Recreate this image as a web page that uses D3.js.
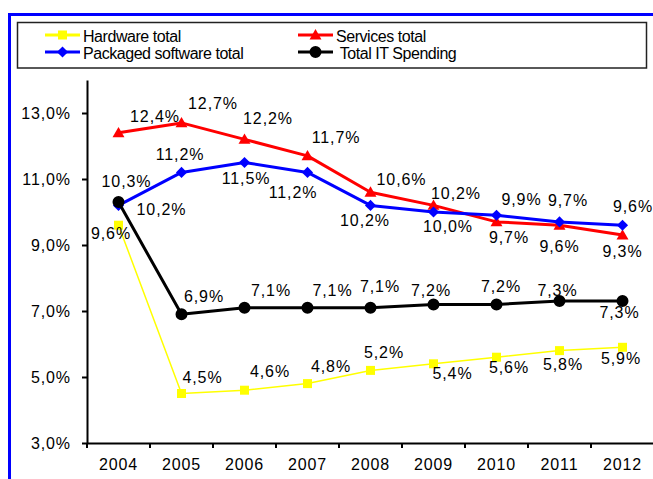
<!DOCTYPE html>
<html>
<head>
<meta charset="utf-8">
<script src="https://cdn.jsdelivr.net/npm/d3@7"></script>
<style>
  html, body { margin: 0; padding: 0; background: #fff; }
  svg { display: block; font-family: "Liberation Sans", Arial, sans-serif; }
</style>
</head>
<body>
<svg id="chart" width="653" height="479"></svg>
<script>
// IT spending growth by segment, 2004–2012
const years = ["2004", "2005", "2006", "2007", "2008", "2009", "2010", "2011", "2012"];
const hardwareTotal = [9.6, 4.5, 4.6, 4.8, 5.2, 5.4, 5.6, 5.8, 5.9];
const servicesTotal = [12.4, 12.7, 12.2, 11.7, 10.6, 10.2, 9.7, 9.6, 9.3];
const packagedSoftwareTotal = [10.2, 11.2, 11.5, 11.2, 10.2, 10.0, 9.9, 9.7, 9.6];
const totalITSpending = [10.3, 6.9, 7.1, 7.1, 7.1, 7.2, 7.2, 7.3, 7.3];
const yTickValues = [3, 5, 7, 9, 11, 13];
const yDomain = [3, 14];

// Hand-placed data-label offsets [dx, dy] from each point (layout only)
const hardwareLabelOffsets = [[-7.5, 14], [21, -11], [25.5, -13.5], [23.5, -11.3], [13.5, -12.7], [19, 15.5], [12.5, 16], [3.5, 19.4], [-1.5, 16.7]];
const servicesLabelOffsets = [[36.5, -11], [31.5, -14], [23.5, -15.4], [28.5, -13], [31, -7], [22.5, -6.5], [12.5, 21], [0, 26.5], [0, 22]];
const packagedLabelOffsets = [[43, 9.6], [-1.5, -12.4], [1.5, 21.5], [-14.5, 26], [-5.5, 21], [14.5, 20], [25, -10], [8.5, -16], [10.5, -13.5]];
const totalLabelOffsets = [[8, -15.4], [22.5, -12], [26.5, -12], [25, -12], [9.5, -15.5], [-2.5, -8.4], [4.5, -12], [-2, -5.4], [-3, 17]];

const series = [
  { name: "Hardware total", values: hardwareTotal, color: "#FFFF00", width: 1.5, marker: "square", offsets: hardwareLabelOffsets },
  { name: "Services total", values: servicesTotal, color: "#FF0000", width: 3, marker: "triangle", offsets: servicesLabelOffsets },
  { name: "Packaged software total", values: packagedSoftwareTotal, color: "#0000FF", width: 3, marker: "diamond", offsets: packagedLabelOffsets },
  { name: " Total IT Spending", values: totalITSpending, color: "#000000", width: 3, marker: "circle", offsets: totalLabelOffsets }
];

const locale = d3.formatLocale({ decimal: ",", thousands: ".", grouping: [3], currency: ["", "€"] });
const pct = v => locale.format(".1f")(v) + "%";

const svg = d3.select("#chart");

// Outer frame (blue), running off the right and bottom edges
svg.append("rect")
  .attr("x", 9.5).attr("y", 14.5)
  .attr("width", 700).attr("height", 500)
  .attr("fill", "none").attr("stroke", "#0000FF").attr("stroke-width", 3);

// Scales
const x = d3.scaleBand().domain(years).range([87, 654]).padding(0);
const y = d3.scaleLinear().domain(yDomain).range([443, 80]);

// Marker shapes
const symbolFor = {
  square: d3.symbol().type(d3.symbolSquare).size(81),
  triangle: d3.symbol().type(d3.symbolTriangle).size(62),
  diamond: d3.symbol().type(d3.symbolSquare).size(62),
  circle: d3.symbol().type(d3.symbolCircle).size(113)
};
function drawMarker(g, kind, color, cx, cy) {
  const p = g.append("path")
    .attr("d", symbolFor[kind]())
    .attr("fill", color);
  if (kind === "diamond") p.attr("transform", `translate(${cx},${cy}) rotate(45)`);
  else if (kind === "triangle") p.attr("transform", `translate(${cx},${cy + 1})`);
  else p.attr("transform", `translate(${cx},${cy})`);
}

// Y axis
const yAxis = d3.axisLeft(y).tickValues(yTickValues).tickFormat(pct).tickSize(5).tickSizeOuter(0).tickPadding(11);
const gy = svg.append("g").attr("transform", "translate(87,0)").call(yAxis);
gy.select(".domain").attr("stroke", "#000").attr("stroke-width", 2);
gy.selectAll(".tick line").attr("stroke", "#000").attr("stroke-width", 2);
gy.selectAll(".tick text")
  .attr("fill", "#000")
  .attr("font-family", "Liberation Sans, Arial, sans-serif")
  .attr("font-size", 16)
  .attr("letter-spacing", 0.9)
  .attr("dy", "0.36em");

// X axis: labels at category centres, tick marks at category boundaries
const xAxis = d3.axisBottom(x).tickSize(0).tickSizeOuter(0).tickPadding(21);
const gx = svg.append("g").attr("transform", `translate(0,${y(yDomain[0])})`).call(xAxis);
gx.select(".domain").attr("stroke", "#000").attr("stroke-width", 2);
gx.selectAll(".tick text")
  .attr("fill", "#000")
  .attr("font-family", "Liberation Sans, Arial, sans-serif")
  .attr("font-size", 16)
  .attr("letter-spacing", 0.9)
  .attr("dy", "0.36em");
const boundaries = years.map(d => x(d)).concat([x(years[years.length - 1]) + x.bandwidth()]);
gx.selectAll("line.boundary")
  .data(boundaries)
  .join("line")
  .attr("class", "boundary")
  .attr("x1", d => d).attr("x2", d => d)
  .attr("y1", 0).attr("y2", 5)
  .attr("stroke", "#000").attr("stroke-width", 2);

// Series lines and markers
const cx = i => x(years[i]) + x.bandwidth() / 2;
const line = d3.line().x((d, i) => cx(i)).y(d => y(d));

series.forEach(s => {
  const g = svg.append("g");
  g.append("path")
    .datum(s.values)
    .attr("d", line)
    .attr("fill", "none")
    .attr("stroke", s.color)
    .attr("stroke-width", s.width)
    .attr("stroke-linejoin", "round");
  s.values.forEach((v, i) => drawMarker(g, s.marker, s.color, cx(i), y(v)));
});

// Data labels
series.forEach(s => {
  svg.append("g")
    .selectAll("text")
    .data(s.values)
    .join("text")
    .attr("x", (v, i) => cx(i) + s.offsets[i][0])
    .attr("y", (v, i) => y(v) + s.offsets[i][1])
    .attr("text-anchor", "middle")
    .attr("font-size", 16)
    .attr("letter-spacing", 0.9)
    .attr("fill", "#000")
    .text(v => pct(v));
});

// Legend
const legend = svg.append("g");
legend.append("rect")
  .attr("x", 17.5).attr("y", 22.5)
  .attr("width", 629).attr("height", 45.5)
  .attr("fill", "#fff").attr("stroke", "#222").attr("stroke-width", 1.5);

const legendSlots = [
  { x: 45, y: 35 }, { x: 298, y: 35 },
  { x: 45, y: 52 }, { x: 298, y: 52 }
];
series.forEach((s, i) => {
  const slot = legendSlots[i];
  const g = legend.append("g");
  g.append("line")
    .attr("x1", slot.x).attr("x2", slot.x + 35)
    .attr("y1", slot.y).attr("y2", slot.y)
    .attr("stroke", s.color).attr("stroke-width", 3);
  drawMarker(g, s.marker, s.color, slot.x + 17.5, slot.y);
  g.append("text")
    .attr("x", slot.x + 38).attr("y", slot.y + 6.5)
    .attr("font-size", 16)
    .attr("letter-spacing", -0.45)
    .attr("fill", "#000")
    .style("white-space", "pre")
    .text(s.name);
});
</script>
</body>
</html>
